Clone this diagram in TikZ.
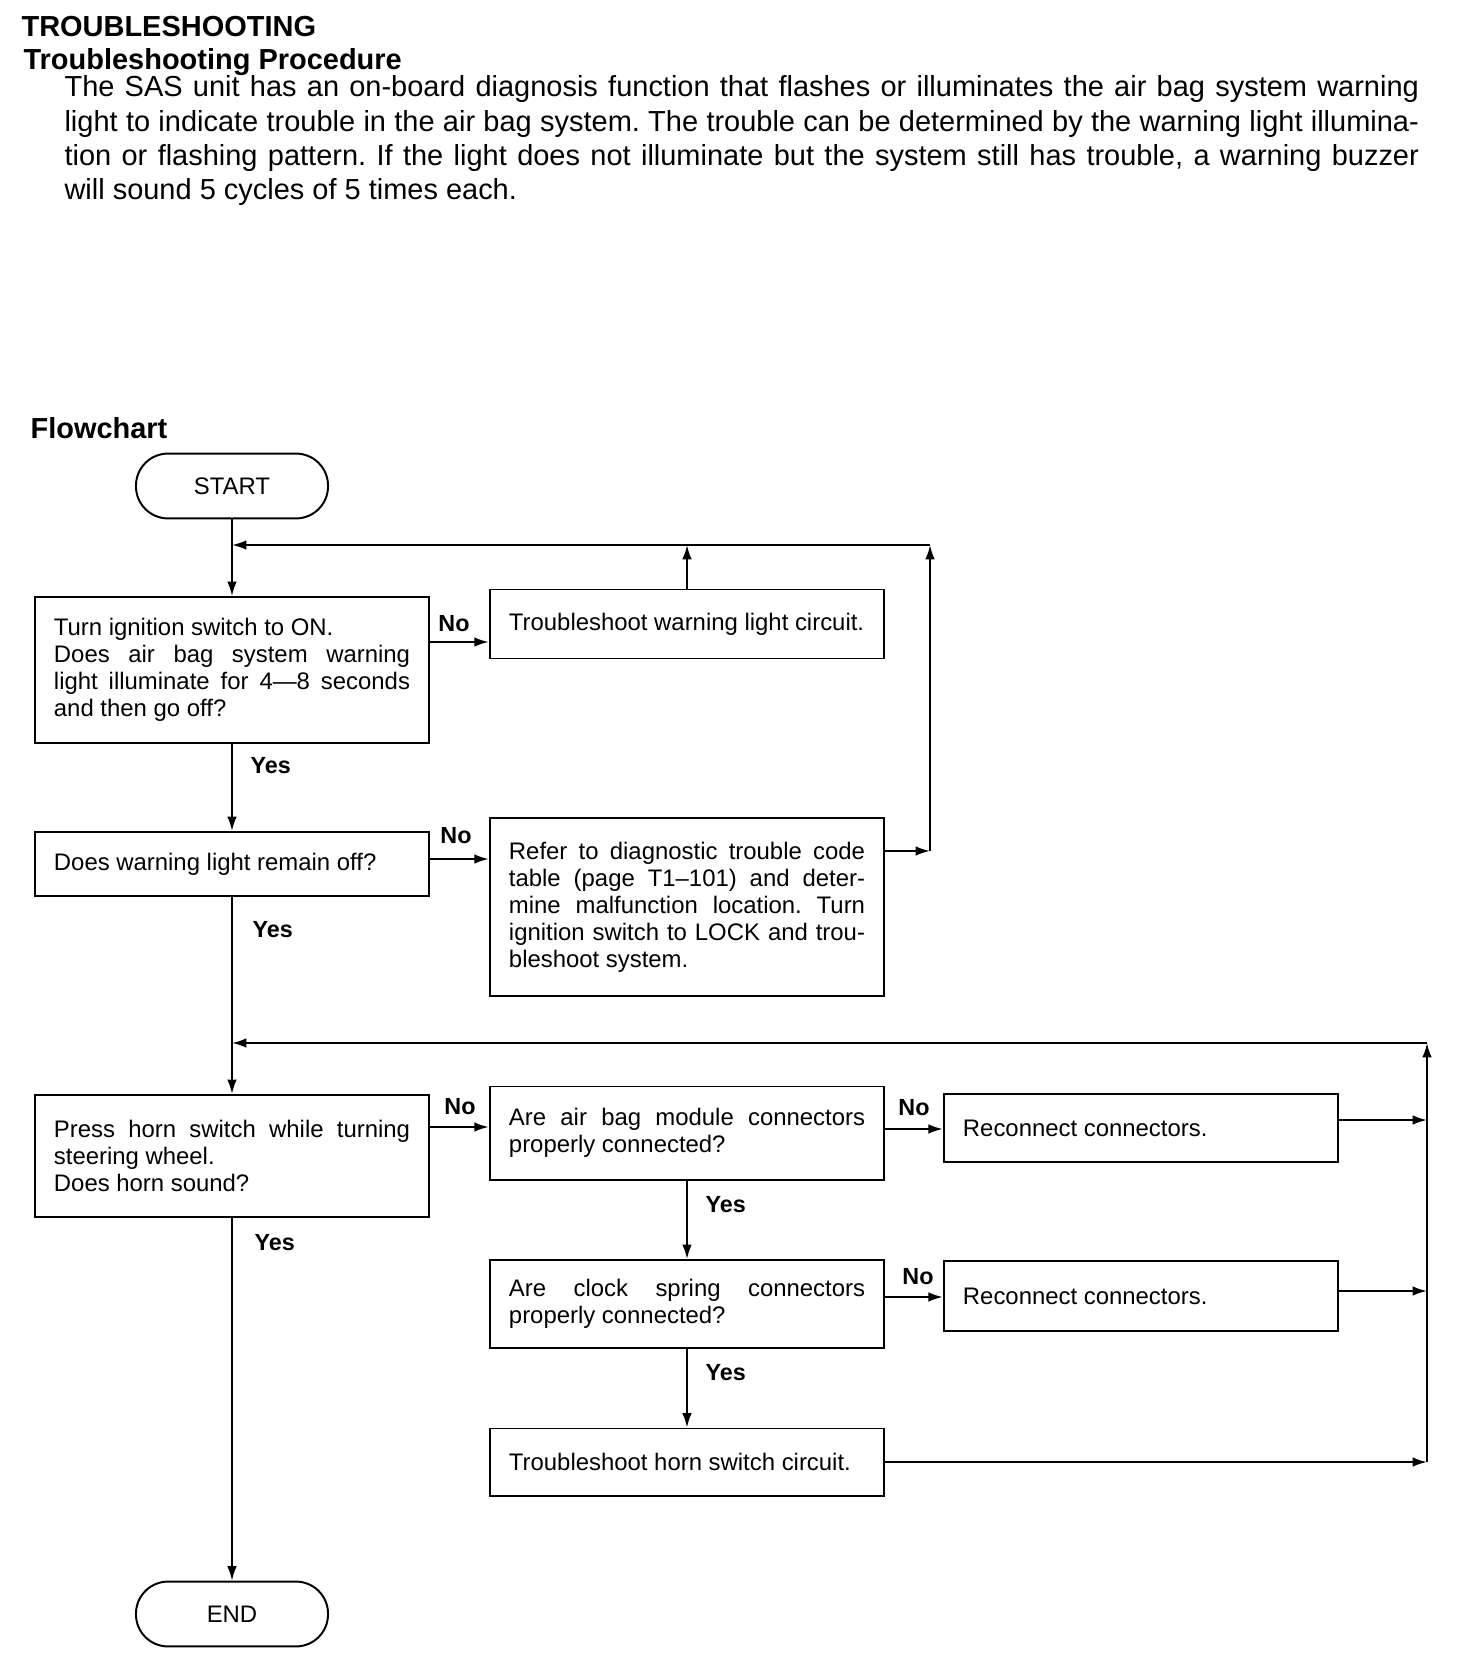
\documentclass[tikz,border=0pt]{standalone}
\usepackage{fontspec}
\setmainfont{Liberation Sans}
\usetikzlibrary{arrows.meta,positioning}
\frenchspacing

\newcommand{\boxfont}{\fontsize{8.5}{9.6}\selectfont}
\newcommand{\lblfont}{\fontsize{8.3}{9}\selectfont\bfseries}
\newcommand{\headfont}{\fontsize{10.3}{12}\selectfont\bfseries}
\newcommand{\parafont}{\fontsize{10.3}{12.2}\selectfont}

\tikzset{
  box/.style={draw, line width=0.7pt, text width=4.45cm, inner xsep=0.24cm, inner ysep=0pt, align=justify, font=\boxfont},
  term/.style={draw, line width=0.7pt, rounded corners=0.4cm, minimum width=2.4cm, minimum height=0.81cm, font=\boxfont},
  lbl/.style={font=\lblfont, inner sep=0pt},
  arr/.style={line width=0.7pt, -{Latex[length=1.8mm,width=1.2mm]}},
}

\begin{document}
\begin{tikzpicture}[x=0.0125cm, y=-0.0125cm]
\useasboundingbox (0,0) rectangle (1472,1662);

\node[anchor=base west, inner sep=0pt, font=\headfont] (title) at (21,37) {TROUBLESHOOTING};
\node[anchor=base west, inner sep=0pt, font=\headfont] (sub) at (23,70) {Troubleshooting Procedure};
\node[anchor=base west, inner sep=0pt, text width=16.925cm, align=justify, font=\parafont] (intro) at (64,97)
  {The SAS unit has an on-board diagnosis function that flashes or illuminates the air bag system warning\linebreak
   light to indicate trouble in the air bag system. The trouble can be determined by the warning light illumina-\linebreak
   tion or flashing pattern. If the light does not illuminate but the system still has trouble, a warning buzzer\linebreak
   will sound 5 cycles of 5 times each.};
\node[anchor=base west, inner sep=0pt, font=\headfont] (flow) at (30,438) {Flowchart};

\node[term] (start) at (232,486) {START};
\node[box, minimum height=1.825cm] (b1) at (232,670) {Turn ignition switch to ON.\newline Does air bag system warning\linebreak light illuminate for 4—8 seconds\linebreak and then go off?};
\node[box, minimum height=0.8625cm] (warn) at (687,624) {Troubleshoot warning light circuit.};
\node[box, minimum height=0.8cm] (b2) at (232,864) {Does warning light remain off?};
\node[box, minimum height=2.2125cm] (refer) at (687,907) {Refer to diagnostic trouble code\linebreak table (page T1–101) and deter-\linebreak mine malfunction location. Turn\linebreak ignition switch to LOCK and trou-\linebreak bleshoot system.};
\node[box, minimum height=1.525cm] (b3) at (232,1156) {Press horn switch while turning\linebreak steering wheel.\newline Does horn sound?};
\node[box, minimum height=1.1625cm] (b4) at (687,1133) {Are air bag module connectors\linebreak properly connected?};
\node[box, minimum height=0.85cm] (b5) at (1141,1128) {Reconnect connectors.};
\node[box, minimum height=1.1cm] (b6) at (687,1304) {Are clock spring connectors\linebreak properly connected?};
\node[box, minimum height=0.875cm] (b7) at (1141,1296) {Reconnect connectors.};
\node[box, minimum height=0.8375cm] (b8) at (687,1462) {Troubleshoot horn switch circuit.};
\node[term] (end) at (232,1614) {END};

\coordinate (c1) at (930,545);
\coordinate (j1) at (232,545);
\coordinate (c2) at (1427,1043);
\coordinate (j2) at (232,1043);

\node[lbl] (no1) at (454,624) {No};
\node[lbl] (no2) at (456,836) {No};
\node[lbl] (no3) at (460,1107) {No};
\node[lbl] (no4) at (914,1108) {No};
\node[lbl] (no5) at (918,1277) {No};
\node[lbl, anchor=west] (yes1) at (250,766) {Yes};
\node[lbl, anchor=west] (yes2) at (252,930) {Yes};
\node[lbl, anchor=west] (yes3) at (254,1243) {Yes};
\node[lbl, anchor=west] (yes4) at (705,1205) {Yes};
\node[lbl, anchor=west] (yes5) at (705,1373) {Yes};

\draw[arr] (start) -- (b1);
\draw[arr] (b1) -- (b2);
\draw[arr] (b2) -- (b3);
\draw[arr] (b3) -- (end);

\draw[arr] (b1.east |- 0,642) -- (warn.west |- 0,642);
\draw[arr] (warn) -- (warn |- c1);
\draw[arr] (b2.east |- 0,859) -- (refer.west |- 0,859);
\draw[arr] (refer.east |- 0,851) -- (c1 |- 0,851);
\draw[arr] (c1 |- 0,851) -- (c1);
\draw[arr] (c1) -- (j1);

\draw[arr] (b3.east |- 0,1127) -- (b4.west |- 0,1127);
\draw[arr] (b4.east |- 0,1129) -- (b5.west |- 0,1129);
\draw[arr] (b4) -- (b6);
\draw[arr] (b6.east |- 0,1297) -- (b7.west |- 0,1297);
\draw[arr] (b6) -- (b8);

\draw[arr] (b5.east |- 0,1120) -- (c2 |- 0,1120);
\draw[arr] (b7.east |- 0,1291) -- (c2 |- 0,1291);
\draw[arr] (b8.east) -- (c2 |- b8.east);
\draw[arr] (c2 |- b8.east) -- (c2);
\draw[arr] (c2) -- (j2);
\end{tikzpicture}
\end{document}
